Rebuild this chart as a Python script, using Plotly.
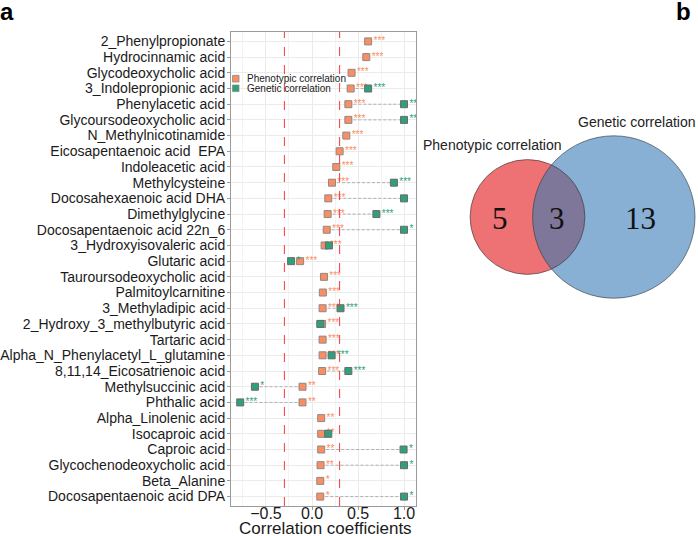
import numpy as np
import plotly.graph_objects as go

W, H = 698, 536

metabolites = [
    "2_Phenylpropionate", "Hydrocinnamic acid", "Glycodeoxycholic acid",
    "3_Indolepropionic acid", "Phenylacetic acid", "Glycoursodeoxycholic acid",
    "N_Methylnicotinamide", "Eicosapentaenoic acid  EPA", "Indoleacetic acid",
    "Methylcysteine", "Docosahexaenoic acid DHA", "Dimethylglycine",
    "Docosapentaenoic acid 22n_6", "3_Hydroxyisovaleric acid", "Glutaric acid",
    "Tauroursodeoxycholic acid", "Palmitoylcarnitine", "3_Methyladipic acid",
    "2_Hydroxy_3_methylbutyric acid", "Tartaric acid",
    "Alpha_N_Phenylacetyl_L_glutamine", "8,11,14_Eicosatrienoic acid",
    "Methylsuccinic acid", "Phthalic acid", "Alpha_Linolenic acid",
    "Isocaproic acid", "Caproic acid", "Glycochenodeoxycholic acid",
    "Beta_Alanine", "Docosapentaenoic acid DPA",
]
pheno_r = [0.61, 0.59, 0.43, 0.42, 0.395, 0.395, 0.373, 0.30, 0.264, 0.217,
           0.177, 0.17, 0.16, 0.137, -0.129, 0.13, 0.118, 0.115, 0.11, 0.115,
           0.115, 0.11, -0.103, -0.103, 0.10, 0.10, 0.10, 0.093, 0.09, 0.09]
pheno_sig = ["***", "***", "***", "***", "***", "***", "***", "***", "***", "***",
             "***", "***", "***", "***", "***", "***", "***", "***", "***", "***",
             "***", "***", "**", "**", "**", "**", "**", "**", "*", "*"]
gen_r = [None, None, None, 0.61, 1.0, 1.0, None, None, None, 0.89,
         1.0, 0.70, 1.0, 0.184, -0.227, None, None, 0.31, 0.09, None,
         0.213, 0.395, -0.62, -0.78, None, 0.177, 0.995, 1.0, None, 1.0]
gen_sig = ["", "", "", "***", "**", "**", "", "", "", "***",
           "", "***", "*", "", "*", "", "", "***", "", "",
           "***", "***", "*", "***", "", "", "*", "*", "", "*"]

venn_labels = ["Phenotypic correlation", "Genetic correlation"]
venn_counts = [5, 3, 13]   # pheno only, both, genetic only

ORANGE = "#FC8D62"
GREEN = "#2FA07A"
SANS = "Liberation Sans"

# plot panel in pixels
L, R, T, B = 231, 416, 32, 506

def px(x):
    return x / W

def py(y):
    return 1 - y / H

fig = go.Figure()

# dashed connectors between the two estimates
lx, ly = [], []
for m, p, g in zip(metabolites, pheno_r, gen_r):
    if g is not None:
        lx += [p, g, None]
        ly += [m, m, None]
fig.add_trace(go.Scatter(x=lx, y=ly, mode="lines", showlegend=False,
                         line=dict(color="#B0B0B0", width=1, dash="3px,2px"),
                         hoverinfo="skip"))

fig.add_trace(go.Scatter(
    x=pheno_r, y=metabolites, mode="markers+text", name="Phenotypic correlation",
    text=pheno_sig, textposition="middle right", showlegend=False,
    textfont=dict(color=ORANGE, size=10, family=SANS),
    marker=dict(symbol="square", size=7, color=ORANGE,
                line=dict(color="#8A8A8A", width=1)),
))
gm = [m for m, g in zip(metabolites, gen_r) if g is not None]
gv = [g for g in gen_r if g is not None]
gs = [s for s, g in zip(gen_sig, gen_r) if g is not None]
fig.add_trace(go.Scatter(
    x=gv, y=gm, mode="markers+text", name="Genetic correlation",
    text=gs, textposition="middle right", showlegend=False,
    textfont=dict(color=GREEN, size=10, family=SANS),
    marker=dict(symbol="square", size=7, color=GREEN,
                line=dict(color="#6A6A6A", width=1)),
))

for v in (-0.3, 0.3):
    fig.add_shape(type="line", xref="x", yref="paper", x0=v, x1=v,
                  y0=py(B), y1=py(T), line=dict(color="#F8393C", width=1, dash="dash"))

# legend drawn by hand, tight like the original
for i, (lab, col) in enumerate(zip(venn_labels, [ORANGE, GREEN])):
    yy = 78.7 + i * 9.6
    fig.add_shape(type="rect", xref="paper", yref="paper",
                  x0=px(232.5), x1=px(239), y0=py(yy + 3.3), y1=py(yy - 3.3),
                  fillcolor=col, line=dict(color="#8A8A8A", width=0.8))
    fig.add_annotation(x=px(245), y=py(yy), xref="paper", yref="paper",
                       text=lab, showarrow=False, xanchor="left", yanchor="middle",
                       font=dict(family=SANS, size=10, color="#1A1A1A"))

# x axis title
fig.add_annotation(x=px(325), y=py(528.5), xref="paper", yref="paper",
                   text="Correlation coefficients", showarrow=False,
                   xanchor="center", yanchor="middle",
                   font=dict(family=SANS, size=17, color="#1A1A1A"))

# Venn diagram (radius ~ sqrt of set size)
n1 = venn_counts[0] + venn_counts[1]
n2 = venn_counts[1] + venn_counts[2]
k = 20.3
r1, r2 = k * np.sqrt(n1), k * np.sqrt(n2)
c1 = (527.5, 217.0)
c2 = (613.8, 217.0)
d = c2[0] - c1[0]
a = (d**2 + r1**2 - r2**2) / (2 * d)
h = np.sqrt(r1**2 - a**2)
t1 = np.arctan2(h, a)
t2 = np.arctan2(h, a - d)

def circle(cx, cy, r, fill, line):
    fig.add_shape(type="circle", xref="paper", yref="paper",
                  x0=px(cx - r), x1=px(cx + r), y0=py(cy + r), y1=py(cy - r),
                  fillcolor=fill, line=line, layer="above")

circle(c1[0], c1[1], r1, "#EE7173", dict(width=0))
circle(c2[0], c2[1], r2, "#87B0D4", dict(width=0))

angA = np.linspace(-t1, t1, 60)
arc1 = [(c1[0] + r1 * np.cos(t), c1[1] + r1 * np.sin(t)) for t in angA]
angB = np.linspace(t2, 2 * np.pi - t2, 60)
arc2 = [(c2[0] + r2 * np.cos(t), c2[1] + r2 * np.sin(t)) for t in angB]
pts = arc1 + arc2
path = "M " + " L ".join(f"{px(x):.5f},{py(y):.5f}" for x, y in pts) + " Z"
fig.add_shape(type="path", xref="paper", yref="paper", path=path,
              fillcolor="#7F7799", line=dict(width=0), layer="above")
circle(c1[0], c1[1], r1, "rgba(0,0,0,0)", dict(color="#333333", width=0.6))
circle(c2[0], c2[1], r2, "rgba(0,0,0,0)", dict(color="#333333", width=0.6))

num_x = [500, 556.5, 640]
for xx, cnt in zip(num_x, venn_counts):
    fig.add_annotation(x=px(xx), y=py(218), xref="paper", yref="paper",
                       text=str(cnt), showarrow=False, xanchor="center", yanchor="middle",
                       font=dict(family="Liberation Serif", size=31, color="#111111"))
fig.add_annotation(x=px(492), y=py(145), xref="paper", yref="paper",
                   text=venn_labels[0], showarrow=False, xanchor="center", yanchor="middle",
                   font=dict(family=SANS, size=14, color="#222222"))
fig.add_annotation(x=px(637), y=py(122), xref="paper", yref="paper",
                   text=venn_labels[1], showarrow=False, xanchor="center", yanchor="middle",
                   font=dict(family=SANS, size=14, color="#222222"))

# panel letters
for lab, xx in (("a", 7), ("b", 683)):
    fig.add_annotation(x=px(xx), y=py(11), xref="paper", yref="paper",
                       text=f"<b>{lab}</b>", showarrow=False, xanchor="center", yanchor="middle",
                       font=dict(family=SANS, size=24, color="black"))

fig.update_layout(
    template="none",
    width=W, height=H,
    margin=dict(l=0, r=0, t=0, b=0),
    plot_bgcolor="white", paper_bgcolor="white",
    font=dict(family=SANS, color="#1A1A1A"),
    showlegend=False,
    xaxis=dict(domain=[px(L), px(R)], range=[-0.88, 1.13],
               tickvals=[-0.5, 0, 0.5, 1.0], ticktext=["−0.5", "0.0", "0.5", "1.0"],
               tickfont=dict(size=16, color="#1A1A1A"),
               showgrid=True, gridcolor="#EBEBEB", gridwidth=1,
               minor=dict(tickvals=[-0.75, -0.25, 0.25, 0.75], showgrid=True,
                          gridcolor="#F3F3F3", gridwidth=1),
               zeroline=False, showline=True, mirror=True, linecolor="#9A9A9A",
               ticks="outside", ticklen=3, tickcolor="#9A9A9A",
               ticklabelstandoff=-10,
               automargin=False),
    yaxis=dict(domain=[py(B), py(T)], type="category",
               categoryorder="array", categoryarray=metabolites,
               tickmode="array", tickvals=metabolites, ticktext=metabolites,
               range=[len(metabolites) - 0.4, -0.6],
               tickfont=dict(size=14, color="#1A1A1A"),
               showgrid=True, gridcolor="#EBEBEB", gridwidth=1,
               zeroline=False, showline=True, mirror=True, linecolor="#9A9A9A",
               ticks="outside", ticklen=3, tickcolor="#9A9A9A",
               ticklabelstandoff=-1,
               automargin=False),
)

# the page's default body margin would shift the figure by 8px
fig.write_html("out.html", config={"displayModeBar": False},
               post_script="document.body.style.margin='0px';")
